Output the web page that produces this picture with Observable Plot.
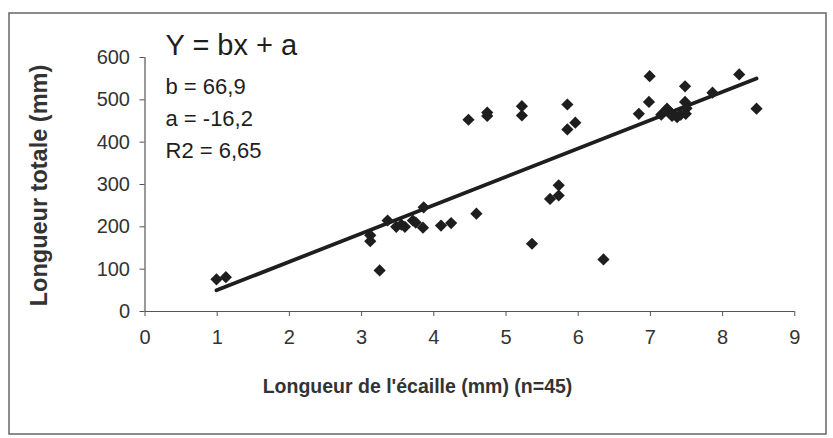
<!DOCTYPE html>
<html>
<head>
<meta charset="utf-8">
<script src="https://cdn.jsdelivr.net/npm/d3@7"></script>
<script src="https://cdn.jsdelivr.net/npm/@observablehq/plot@0.6"></script>
<style>
  html, body { margin: 0; padding: 0; background: #fff; }
  #chart { width: 833px; height: 438px; }
</style>
</head>
<body>
<div id="chart"></div>
<script>
// Scale length (mm)
const scaleLen = [0.99, 1.12, 3.12, 3.12, 3.25, 3.36, 3.48, 3.55, 3.60, 3.71, 3.75, 3.85, 3.86, 4.10, 4.24,
  4.48, 4.59, 4.74, 4.74, 5.22, 5.22, 5.36, 5.61, 5.73, 5.73, 5.85, 5.85, 5.96, 6.35, 6.84,
  6.98, 6.99, 7.15, 7.23, 7.28, 7.30, 7.37, 7.42, 7.48, 7.48, 7.49, 7.50, 7.86, 8.23, 8.47];
// Total length (mm)
const totalLen = [76, 81, 166, 180, 97, 215, 200, 205, 200, 215, 210, 198, 246, 203, 209,
  453, 231, 462, 470, 485, 463, 160, 266, 274, 298, 489, 430, 446, 123, 467,
  495, 556, 465, 479, 470, 462, 459, 465, 532, 495, 467, 480, 517, 560, 479];

const slopeB = 66.9;
const interceptA = -16.2;
const eqTitle = ["Y = bx + a"];
const eqLines = ["b = 66,9", "a = -16,2", "R2 = 6,65"];
const xTicks = [0, 1, 2, 3, 4, 5, 6, 7, 8, 9];
const yTicks = [0, 100, 200, 300, 400, 500, 600];
const xTitle = "Longueur de l'écaille (mm) (n=45)";
const yTitle = "Longueur totale (mm)";

const pts = scaleLen.map((x, i) => ({x, y: totalLen[i]}));
const ext = d3.extent(scaleLen);
const fit = ext.map(x => ({x, y: slopeB * x + interceptA}));

const ink = "#1e1e1e";
const chart = Plot.plot({
  width: 833,
  height: 438,
  marginLeft: 144.5,
  marginRight: 38.7,
  marginTop: 57,
  marginBottom: 127,
  style: {fontFamily: "'Liberation Sans', Arial, sans-serif", fontSize: "20px", color: "#333", background: "#fff"},
  x: {domain: [0, 9]},
  y: {domain: [0, 600]},
  marks: [
    Plot.axisY({ticks: yTicks, tickSize: 5, tickPadding: 10, label: null, stroke: "#555"}),
    Plot.axisX({ticks: xTicks, tickSize: 5, tickPadding: 13, label: null, stroke: "#555"}),
    Plot.ruleX([0], {stroke: "#555", strokeWidth: 1.2}),
    Plot.ruleY([0], {stroke: "#555", strokeWidth: 1.2}),
    Plot.line(fit, {x: "x", y: "y", stroke: ink, strokeWidth: 3.8, strokeLinecap: "round"}),
    Plot.dot(pts, {x: "x", y: "y", symbol: "diamond2", r: 5.5, fill: ink, stroke: "none"}),
    Plot.text(eqTitle, {frameAnchor: "top-left", textAnchor: "start", lineAnchor: "middle", dx: 20.5, dy: -12, fontSize: 29, fill: ink}),
    Plot.text([eqLines.join("\n")], {frameAnchor: "top-left", textAnchor: "start", lineAnchor: "top", lineHeight: 1.45, dx: 20.5, dy: 14, fontSize: 22, fill: ink}),
    Plot.text([xTitle], {frameAnchor: "bottom-left", textAnchor: "middle", lineAnchor: "middle", dx: 417 - 144.5, dy: 386 - 311, fontSize: 19.5, fontWeight: "bold", fill: "#333"}),
    Plot.text([yTitle], {frameAnchor: "top-left", textAnchor: "middle", lineAnchor: "middle", rotate: -90, dx: 39 - 144.5, dy: 185 - 57, fontSize: 23.5, fontWeight: "bold", fill: "#333"})
  ]
});

document.getElementById("chart").appendChild(chart);
// Outer frame
d3.select(chart).insert("rect", ":first-child")
  .attr("x", 9).attr("y", 13).attr("width", 817).attr("height", 421)
  .attr("fill", "none").attr("stroke", "#666").attr("stroke-width", 1.5);
</script>
</body>
</html>
